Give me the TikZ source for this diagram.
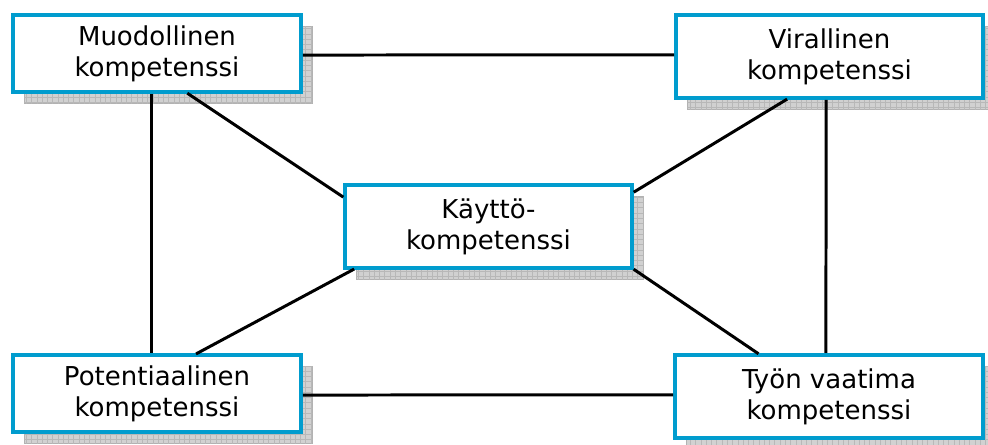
\documentclass[tikz,border=0pt]{standalone}
\usepackage{fontspec}
\setmainfont{DejaVu Sans}
\usepackage{tikz}
\usetikzlibrary{shadows,calc,patterns}
\definecolor{kompblue}{RGB}{0,156,206}

\begin{document}
\begin{tikzpicture}[x=0.02cm, y=-0.02cm, outer sep=0pt,
    komp/.style={draw=kompblue, line width=2.1pt, fill=white, align=center, inner sep=0pt,
      font=\fontsize{14.8}{17.6}\selectfont,
      copy shadow={shadow xshift=0.23cm, shadow yshift=-0.23cm, fill=black!18, draw=black!30, line width=0.4pt,
        postaction={pattern=grid, pattern color=black!28}}},
    link/.style={line width=1.7pt, shorten <=1pt, shorten >=1pt}]

      \useasboundingbox (0,0) rectangle (988,445);

      \node [komp, minimum width=5.77cm, minimum height=1.55cm] at (157,53.5) (muod) {Muodollinen\\kompetenssi};
      \node [komp, minimum width=6.15cm, minimum height=1.67cm] at (829.5,56.5) (vir) {Virallinen\\kompetenssi};
      \node [komp, minimum width=5.75cm, minimum height=1.67cm] at (488.5,226.5) (kay) {Käyttö-\\kompetenssi};
      \node [komp, minimum width=5.77cm, minimum height=1.55cm] at (157,393.5) (pot) {Potentiaalinen\\kompetenssi};
      \node [komp, minimum width=6.17cm, minimum height=1.67cm] at (829,396.5) (tyon) {Työn vaatima\\kompetenssi};

    %
    % Connections
      \draw [link] ($(muod.north east)!0.52!(muod.south east)$) -- ($(vir.north west)!0.48!(vir.south west)$);
      \draw [link] ($(muod.south west)!0.48!(muod.south east)$) -- ($(pot.north west)!0.48!(pot.north east)$);
      \draw [link] ($(muod.south west)!0.6!(muod.south east)$) -- ($(kay.north west)!0.16!(kay.south west)$);
      \draw [link] ($(vir.south west)!0.367!(vir.south east)$) -- ($(kay.north east)!0.1!(kay.south east)$);
      \draw [link] ($(vir.south west)!0.489!(vir.south east)$) -- ($(tyon.north west)!0.49!(tyon.north east)$);
      \draw [link] ($(kay.south west)!0.038!(kay.south east)$) -- ($(pot.north west)!0.63!(pot.north east)$);
      \draw [link] (kay.south east) -- ($(tyon.north west)!0.276!(tyon.north east)$);
      \draw [link] ($(pot.north east)!0.52!(pot.south east)$) -- ($(tyon.north west)!0.48!(tyon.south west)$);
    \end{tikzpicture}
\end{document}
